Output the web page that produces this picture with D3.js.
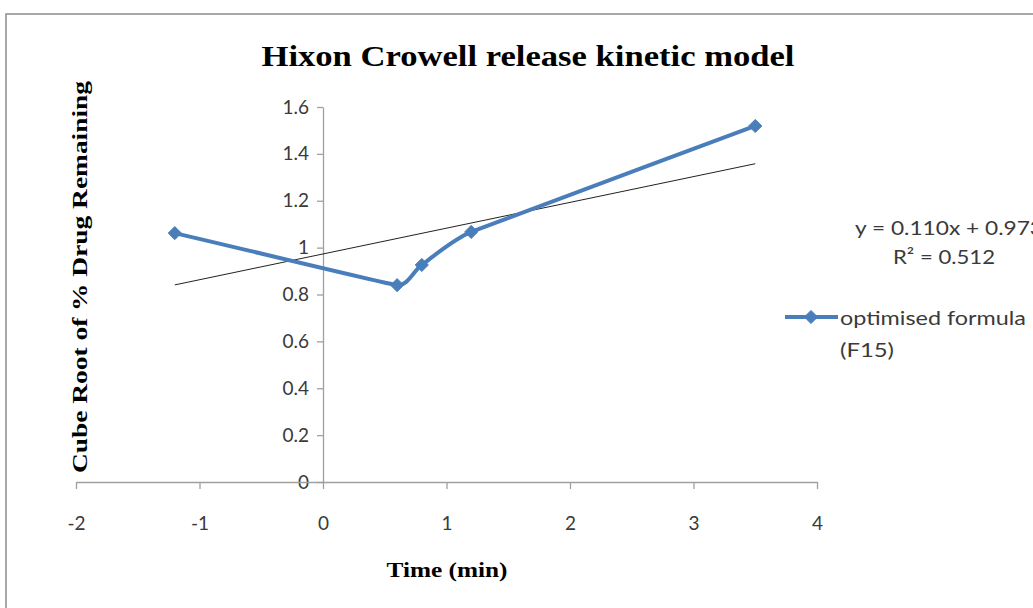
<!DOCTYPE html>
<html>
<head>
<meta charset="utf-8">
<script src="https://cdn.jsdelivr.net/npm/d3@7"></script>
<style>
  body { margin: 0; background: #ffffff; }
  svg { display: block; }
</style>
</head>
<body>
<div id="chart"></div>
<script>
// data
var timeValues = [-1.2, 0.6, 0.8, 1.2, 3.5];
var cubeRootValues = [1.062, 0.84, 0.926, 1.067, 1.519];
var xTicks = [-2, -1, 0, 1, 2, 3, 4];
var yTicks = [0, 0.2, 0.4, 0.6, 0.8, 1, 1.2, 1.4, 1.6];
var trendSlope = 0.110;
var trendIntercept = 0.973;
var seriesName = ["optimised formula", "(F15)"];
var equationLines = ["y = 0.110x + 0.973", "R\u00b2 = 0.512"];

var w = 1033;
var h = 608;

var svg = d3.select("#chart")
    .append("svg")
    .attr("width", w)
    .attr("height", h);

// outer chart border (runs off the right and bottom edges)
svg.append("rect")
    .attr("x", 6)
    .attr("y", 14)
    .attr("width", 1100)
    .attr("height", 700)
    .attr("fill", "#ffffff")
    .attr("stroke", "#8c8c8c")
    .attr("stroke-width", 1.5);

var xscale = d3.scaleLinear()
    .domain([-2, 4])
    .range([76, 817]);

var yscale = d3.scaleLinear()
    .domain([0, 1.6])
    .range([482, 107]);

var axisColor = "#a0a0a0";
var bodyFont = "Lato, 'Open Sans', sans-serif";
var serifFont = "'Liberation Serif', 'Times New Roman', serif";

// y axis sits at x = 0
var yaxis = svg.append("g")
    .attr("transform", "translate(" + xscale(0) + ",0)")
    .call(d3.axisLeft(yscale)
        .tickValues(yTicks)
        .tickSizeInner(6)
        .tickSizeOuter(0)
        .tickPadding(8)
        .tickFormat(function(d) { return d3.format("")(+d.toFixed(1)); }));

// x axis sits at y = 0
var xaxis = svg.append("g")
    .attr("transform", "translate(0," + yscale(0) + ")")
    .call(d3.axisBottom(xscale)
        .tickValues(xTicks)
        .tickSizeInner(7)
        .tickSizeOuter(0)
        .tickPadding(28)
        .tickFormat(d3.format("d")));

[xaxis, yaxis].forEach(function(a) {
    a.select(".domain").attr("stroke", axisColor).attr("stroke-width", 1.3);
    a.selectAll(".tick line").attr("stroke", axisColor).attr("stroke-width", 1.3);
    a.selectAll(".tick text")
        .attr("fill", "#3a3a3a")
        .style("font-family", bodyFont)
        .style("font-size", "19px");
});
xaxis.selectAll(".tick text").text(function(d) { return d < 0 ? "-" + Math.abs(d) : d; });

// trendline
var trendX = [d3.min(timeValues), d3.max(timeValues)];
svg.append("line")
    .attr("x1", xscale(trendX[0]))
    .attr("y1", yscale(trendSlope * trendX[0] + trendIntercept))
    .attr("x2", xscale(trendX[1]))
    .attr("y2", yscale(trendSlope * trendX[1] + trendIntercept))
    .attr("stroke", "#222222")
    .attr("stroke-width", 1);

// smoothed series line, spreadsheet-style: tangent along the neighbours,
// control arm limited by the shorter of the two adjacent segments
var px = timeValues.map(function(t, i) { return [xscale(t), yscale(cubeRootValues[i])]; });
var blue = "#4a7ebb";

function dist(a, b) { return Math.hypot(b[0] - a[0], b[1] - a[1]); }

function smoothPath(p) {
    var n = p.length;
    var tang = p.map(function(pt, i) {
        var a = p[Math.max(i - 1, 0)], b = p[Math.min(i + 1, n - 1)];
        var d = dist(a, b) || 1;
        return [(b[0] - a[0]) / d, (b[1] - a[1]) / d];
    });
    var seg = [];
    for (var i = 0; i < n - 1; i++) seg.push(dist(p[i], p[i + 1]));
    var arm = p.map(function(pt, i) {
        var l = i > 0 ? seg[i - 1] : seg[0];
        var r = i < n - 1 ? seg[i] : seg[n - 2];
        return Math.min(l, r) / 3;
    });
    var path = d3.path();
    path.moveTo(p[0][0], p[0][1]);
    for (var j = 0; j < n - 1; j++) {
        var a = p[j], b = p[j + 1];
        path.bezierCurveTo(
            a[0] + tang[j][0] * arm[j], a[1] + tang[j][1] * arm[j],
            b[0] - tang[j + 1][0] * arm[j + 1], b[1] - tang[j + 1][1] * arm[j + 1],
            b[0], b[1]);
    }
    return path.toString();
}

svg.append("path")
    .attr("d", smoothPath(px))
    .attr("fill", "none")
    .attr("stroke", blue)
    .attr("stroke-width", 4)
    .attr("stroke-linejoin", "round");

var diamond = d3.symbol().type(d3.symbolDiamond2).size(110);

svg.selectAll(".marker")
    .data(px)
    .enter().append("path")
    .attr("class", "marker")
    .attr("d", diamond)
    .attr("transform", function(d) { return "translate(" + d[0] + "," + d[1] + ")"; })
    .attr("fill", blue)
    .attr("stroke", blue)
    .attr("stroke-width", 1);

// title
svg.append("text")
    .attr("x", 528)
    .attr("y", 66)
    .attr("text-anchor", "middle")
    .attr("textLength", 533)
    .attr("lengthAdjust", "spacingAndGlyphs")
    .style("font-family", serifFont)
    .style("font-weight", "bold")
    .style("font-size", "29px")
    .attr("fill", "#000000")
    .text("Hixon Crowell release kinetic model");

// y axis title
svg.append("text")
    .attr("transform", "translate(87,277) rotate(-90)")
    .attr("text-anchor", "middle")
    .attr("textLength", 392)
    .attr("lengthAdjust", "spacingAndGlyphs")
    .style("font-family", serifFont)
    .style("font-weight", "bold")
    .style("font-size", "21px")
    .attr("fill", "#000000")
    .text("Cube Root of % Drug Remaining");

// x axis title
svg.append("text")
    .attr("x", 447)
    .attr("y", 577)
    .attr("text-anchor", "middle")
    .attr("textLength", 121)
    .attr("lengthAdjust", "spacingAndGlyphs")
    .style("font-family", serifFont)
    .style("font-weight", "bold")
    .style("font-size", "21px")
    .attr("fill", "#000000")
    .text("Time (min)");

// trendline equation
svg.selectAll(".eq")
    .data(equationLines)
    .enter().append("text")
    .attr("class", "eq")
    .attr("x", function(d, i) { return i === 0 ? 855 : 893; })
    .attr("y", function(d, i) { return 235 + i * 29; })
    .attr("textLength", function(d, i) { return i === 0 ? 188 : 102; })
    .attr("lengthAdjust", "spacingAndGlyphs")
    .style("font-family", bodyFont)
    .style("font-size", "20px")
    .attr("fill", "#3a3a3a")
    .text(function(d) { return d; });

// legend
svg.append("line")
    .attr("x1", 785)
    .attr("x2", 838)
    .attr("y1", 317)
    .attr("y2", 317)
    .attr("stroke", blue)
    .attr("stroke-width", 4);

svg.append("path")
    .attr("d", diamond)
    .attr("transform", "translate(811,317)")
    .attr("fill", blue)
    .attr("stroke", blue);

svg.selectAll(".leg")
    .data(seriesName)
    .enter().append("text")
    .attr("class", "leg")
    .attr("x", 840)
    .attr("y", function(d, i) { return 325 + i * 32; })
    .attr("textLength", function(d, i) { return i === 0 ? 186 : 54; })
    .attr("lengthAdjust", "spacingAndGlyphs")
    .style("font-family", bodyFont)
    .style("font-size", "20px")
    .attr("fill", "#3a3a3a")
    .text(function(d) { return d; });
</script>
</body>
</html>
